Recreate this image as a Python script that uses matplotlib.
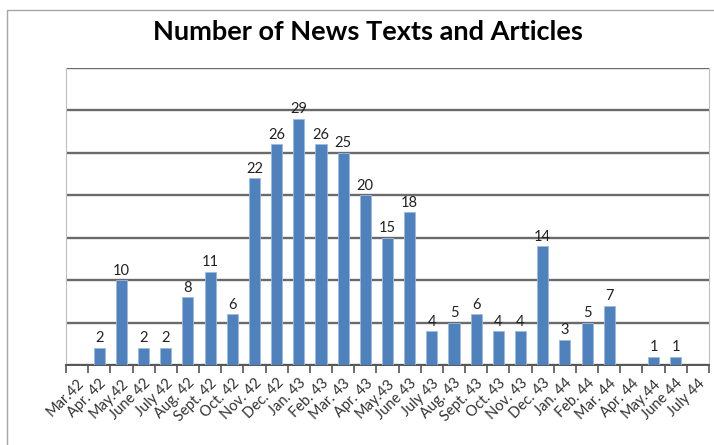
import matplotlib.pyplot as plt
import matplotlib.patches as patches
import numpy as np

# months and counts
months = ["Mar.42", "Apr. 42", "May.42", "June 42", "July 42", "Aug. 42", "Sept. 42",
          "Oct. 42", "Nov. 42", "Dec. 42", "Jan. 43", "Feb. 43", "Mar. 43", "Apr. 43",
          "May.43", "June 43", "July 43", "Aug. 43", "Sept. 43", "Oct. 43", "Nov. 43",
          "Dec. 43", "Jan. 44", "Feb. 44", "Mar. 44", "Apr. 44", "May.44", "June 44",
          "July 44"]
counts = [0, 2, 10, 2, 2, 8, 11, 6, 22, 26, 29, 26, 25, 20, 15, 18, 4, 5, 6, 4, 4,
          14, 3, 5, 7, 0, 1, 1, 0]

plt.rcParams['font.family'] = ['Lato', 'DejaVu Sans']

fig = plt.figure(figsize=(7.14, 4.45), dpi=100)
ax = fig.add_axes([66 / 714, 80 / 445, 643 / 714, 297 / 445])

x = np.arange(len(months))
bars = ax.bar(x, counts, width=0.5, color="#4f81bd", edgecolor="#9dbbe0",
              linewidth=0.6, zorder=3)

for xi, v in zip(x, counts):
    if v > 0:
        ax.text(xi, v + 0.3, str(v), ha="center", va="bottom", fontsize=10.5,
                color="#222222", zorder=4)

ax.set_xlim(-0.5, len(months) - 0.5)
ax.set_ylim(0, 35)
ax.set_yticks(np.arange(0, 36, 5))
ax.set_yticklabels([])
ax.tick_params(axis="y", length=0)
ax.grid(axis="y", color="#6a6a6a", linewidth=1.7, zorder=1)

ax.set_xticks(x)
ax.set_xticklabels(months, rotation=45, ha="right", rotation_mode="anchor",
                   fontsize=10.5, color="#333333")
ax.tick_params(axis="x", which="major", length=0, pad=8)
ax.set_xticks(np.arange(-0.5, len(months), 1), minor=True)
ax.tick_params(axis="x", which="minor", length=6, width=1.2, color="#555555")

ax.spines["left"].set_color("#bfbfbf")
ax.spines["right"].set_color("#bfbfbf")
ax.spines["top"].set_visible(False)
ax.spines["bottom"].set_color("#555555")
ax.spines["bottom"].set_linewidth(1.4)

fig.text(0.515, 1 - 32 / 445, "Number of News Texts and Articles", ha="center",
         va="center", fontsize=19.5, fontweight="bold")

# outer chart border
fig.patches.append(patches.Rectangle((7 / 714, -0.1), 1.0, 1.1 - 10 / 445,
                                     transform=fig.transFigure, fill=False,
                                     edgecolor="#a6a6a6", linewidth=1))

fig.savefig("out.png", dpi=100)
